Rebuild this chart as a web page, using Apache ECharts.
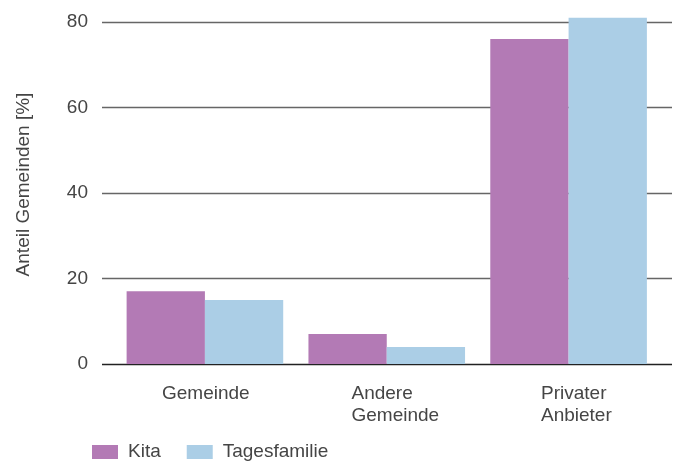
<!DOCTYPE html>
<html><head><meta charset="utf-8">
<script src="https://cdn.jsdelivr.net/npm/echarts@6/dist/echarts.min.js"></script>
<style>html,body{margin:0;padding:0;background:#fff}#c{width:678px;height:461px}</style>
</head><body><div id="c"></div>
<script>
var categories = ['Gemeinde', 'Andere\nGemeinde', 'Privater\nAnbieter'];
var kita = [17, 7, 76];
var tagesfamilie = [15, 4, 81];
var yTicks = [0, 20, 40, 60, 80];
var seriesNames = ['Kita', 'Tagesfamilie'];

var FONT = 'Liberation Sans, Arial, sans-serif';
var TXT = '#454545';
var chart = echarts.init(document.getElementById('c'), null, {renderer: 'canvas'});
chart.setOption({
  animation: false,
  textStyle: {fontFamily: FONT},
  legend: {
    data: seriesNames, left: 87, top: 436, padding: 5, itemWidth: 26, itemHeight: 14, itemGap: 26,
    icon: 'rect', textStyle: {fontSize: 19, lineHeight: 22, color: TXT, fontFamily: FONT, padding: [0, 0, 0, 5]}
  },
  grid: [
    {left: 114, top: 22, width: 545.5, bottom: 97},
    {left: 102, top: 22, width: 570, bottom: 97},
    {left: 67.25, top: 5, width: 568.5, bottom: 97}
  ],
  xAxis: [
    {type: 'category', gridIndex: 0, data: categories, axisLine: {show: false}, axisTick: {show: false}, axisLabel: {show: false}},
    {type: 'value', gridIndex: 1, show: false},
    {type: 'category', gridIndex: 2, data: categories, axisLine: {show: false}, axisTick: {show: false},
     axisLabel: {align: 'left', margin: 19, fontSize: 19, lineHeight: 22, color: TXT, fontFamily: FONT}}
  ],
  yAxis: [
    {type: 'value', gridIndex: 0, min: 0, max: 80, interval: 20, show: false},
    {type: 'value', gridIndex: 1, min: yTicks[0], max: yTicks[yTicks.length - 1], interval: 20,
     axisLine: {show: false}, axisTick: {show: false},
     axisLabel: {margin: 14, fontSize: 19, color: TXT, fontFamily: FONT},
     splitLine: {show: true, lineStyle: {color: ['#222', '#666', '#666', '#666', '#666'], width: 1.3}}},
    {type: 'value', gridIndex: 2, min: 0, max: 1,
     name: 'Anteil Gemeinden [%]', nameLocation: 'middle', nameGap: 34, nameRotate: 90,
     nameTextStyle: {fontSize: 19, color: TXT, fontFamily: FONT},
     axisLine: {show: false}, axisTick: {show: false}, axisLabel: {show: false}, splitLine: {show: false}}
  ],
  series: [
    {name: seriesNames[0], type: 'bar', xAxisIndex: 0, yAxisIndex: 0, data: kita, barWidth: 78.3, barGap: '0%', clip: false,
     itemStyle: {color: '#b37ab5'}},
    {name: seriesNames[1], type: 'bar', xAxisIndex: 0, yAxisIndex: 0, data: tagesfamilie, barWidth: 78.3, barGap: '0%', clip: false,
     itemStyle: {color: '#abcee6'}}
  ]
});
</script></body></html>
